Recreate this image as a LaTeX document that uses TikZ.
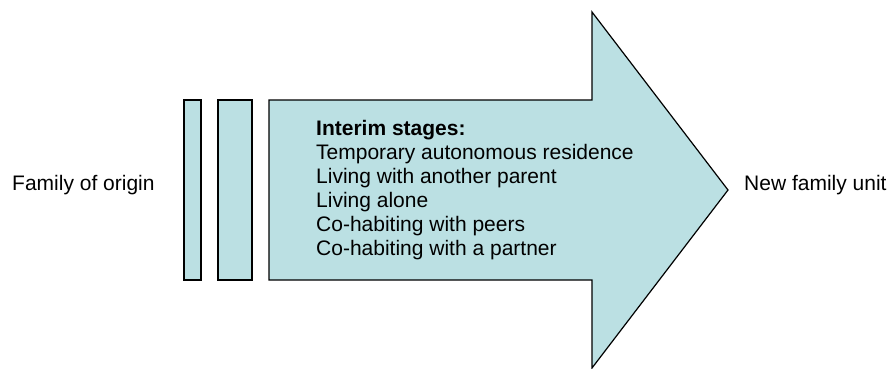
\documentclass[tikz,border=0pt]{standalone}
\usepackage{fontspec}
\setmainfont{Liberation Sans}
\definecolor{stagefill}{RGB}{187,224,227}

\begin{document}
\begin{tikzpicture}[x=1pt,y=-1pt,
  stagebox/.style={draw=black,fill=stagefill,line width=1.2pt,line join=miter},
  plain/.style={font=\fontsize{21}{24}\selectfont,inner sep=0pt}]
\useasboundingbox (0,0) rectangle (892,368);

% the two thin bars
\foreach \l/\r in {184/201,218/252}
{
\draw[stagebox] (\l,100) rectangle (\r,280);
}

% big arrow
\draw[stagebox] (269,100) -- (592,100) -- (592,12) -- (728,190)
  -- (592,368) -- (592,280) -- (269,280) -- cycle;

\node[plain,anchor=base west] (origin) at (12,190) {Family of origin};
\node[plain,anchor=base west] (newunit) at (744,190) {New family unit};

\node[plain,anchor=base west,font=\fontsize{21}{24}\selectfont\bfseries] (interim) at (316,135) {Interim stages:};
\foreach \t [count=\i] in {Temporary autonomous residence,Living with another parent,Living alone,Co-habiting with peers,Co-habiting with a partner}
{
\node[plain,anchor=base west] (stage\i) at (316,{135+24*\i}) {\t};
}
\end{tikzpicture}
\end{document}
